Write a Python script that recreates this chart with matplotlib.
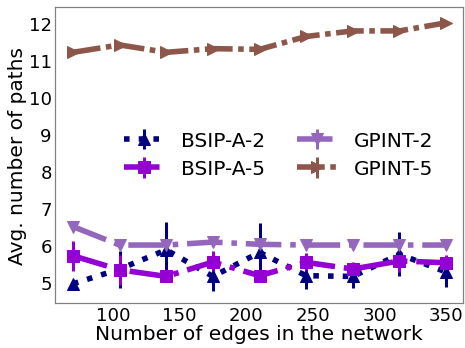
import matplotlib
matplotlib.use("Agg")
import matplotlib.pyplot as plt

edges = [70, 105, 140, 175, 210, 245, 280, 315, 350]

bsip2 = [4.95, 5.35, 5.87, 5.15, 5.80, 5.17, 5.15, 5.75, 5.27]
bsip2_err = [0.05, 0.5, 0.75, 0.4, 0.8, 0.35, 0.3, 0.6, 0.4]

bsip5 = [5.71, 5.33, 5.15, 5.54, 5.17, 5.53, 5.35, 5.57, 5.52]
bsip5_err = [0.4, 0.4, 0.12, 0.3, 0.15, 0.25, 0.2, 0.3, 0.2]

gpint2 = [6.5, 6.0, 6.0, 6.08, 6.02, 6.0, 6.0, 6.0, 6.0]
gpint2_err = [0.05, 0.05, 0.05, 0.1, 0.05, 0.05, 0.05, 0.05, 0.05]

gpint5 = [11.22, 11.42, 11.22, 11.32, 11.3, 11.65, 11.8, 11.8, 12.02]
gpint5_err = [0.05, 0.08, 0.05, 0.05, 0.05, 0.05, 0.05, 0.05, 0.05]

labels = ["BSIP-A-2", "BSIP-A-5", "GPINT-2", "GPINT-5"]

fig = plt.figure(figsize=(6.4, 4.8), dpi=465 / 6.4)
ax = fig.add_axes([0.118, 0.129, 0.878, 0.849])

lw = 5.5
ms = 11
ax.errorbar(edges, bsip2, yerr=bsip2_err, color="#000080", marker="^", ms=ms,
            linestyle=":", lw=lw, elinewidth=3, label=labels[0])
ax.errorbar(edges, bsip5, yerr=bsip5_err, color="#9400D3", marker="s", ms=ms,
            linestyle="-.", lw=lw, elinewidth=3, label=labels[1])
ax.errorbar(edges, gpint2, yerr=gpint2_err, color="#9467bd", marker="v", ms=ms,
            linestyle="-.", lw=lw, elinewidth=3, label=labels[2])
ax.errorbar(edges, gpint5, yerr=gpint5_err, color="#8c564b", marker=">", ms=ms,
            linestyle=(0, (5, 1, 1, 1)), lw=lw, elinewidth=3, label=labels[3])

ax.set_xlim(56.4, 362.8)
ax.set_ylim(4.43, 12.45)
ax.set_xticks([100, 150, 200, 250, 300, 350])
ax.set_yticks([5, 6, 7, 8, 9, 10, 11, 12])
ax.tick_params(length=0, labelsize=18, pad=3)
for s in ax.spines.values():
    s.set_color("#808080")
    s.set_linewidth(1.2)

ax.set_xlabel("Number of edges in the network", fontsize=20, labelpad=0)
ax.set_ylabel("Avg. number of paths", fontsize=20, labelpad=2)

ax.legend(ncol=2, fontsize=20, frameon=False, loc="center",
          bbox_to_anchor=(0.548, 0.5), columnspacing=1.6,
          handletextpad=0.8, labelspacing=0.45)

fig.savefig("out.png", dpi=465 / 6.4)
